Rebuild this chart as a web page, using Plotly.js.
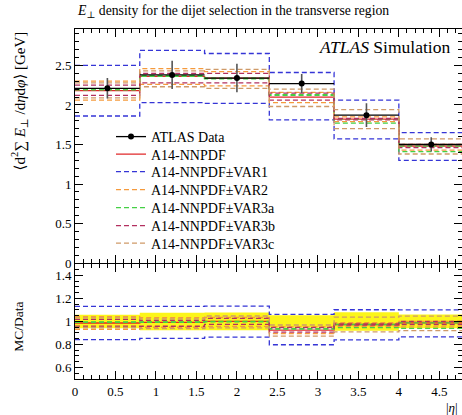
<!DOCTYPE html>
<html>
<head>
<meta charset="utf-8">
<script src="https://cdn.plot.ly/plotly-3.0.1.min.js"></script>
<style>html,body{margin:0;padding:0;background:#fff;}#chart{width:462px;height:415px;}</style>
</head>
<body>
<div id="chart"></div>
<script>
// ---- data ----
const binEdges = [0, 0.8, 1.6, 2.4, 3.2, 4.0, 4.8];
const binCenters = [0.4, 1.2, 2.0, 2.8, 3.6, 4.4];
const binHalfWidth = [0.4, 0.4, 0.4, 0.4, 0.4, 0.4];
const dataVals = [2.21, 2.38, 2.34, 2.27, 1.87, 1.50];
const dataErr  = [0.13, 0.18, 0.18, 0.12, 0.15, 0.09];
const nominal  = [2.18, 2.36, 2.34, 2.10, 1.82, 1.48];
const var1Up   = [2.50, 2.69, 2.65, 2.41, 2.06, 1.65];
const var1Dn   = [1.86, 2.03, 2.02, 1.81, 1.57, 1.30];
const var2Up   = [2.30, 2.46, 2.42, 2.16, 1.85, 1.50];
const var2Dn   = [2.06, 2.26, 2.24, 2.03, 1.79, 1.43];
const var3aUp  = [2.20, 2.37, 2.34, 2.13, 1.82, 1.48];
const var3aDn  = [2.19, 2.36, 2.33, 2.12, 1.77, 1.41];
const var3bUp  = [2.25, 2.40, 2.40, 2.15, 1.83, 1.50];
const var3bDn  = [2.12, 2.28, 2.28, 2.06, 1.81, 1.46];
const var3cUp  = [2.28, 2.43, 2.45, 2.20, 1.94, 1.57];
const var3cDn  = [2.09, 2.23, 2.21, 1.98, 1.70, 1.38];
const legendNames = ['ATLAS Data', 'A14-NNPDF', 'A14-NNPDF±VAR1', 'A14-NNPDF±VAR2',
                     'A14-NNPDF±VAR3a', 'A14-NNPDF±VAR3b', 'A14-NNPDF±VAR3c'];

// ---- styling ----
const FONT = 'Liberation Serif, DejaVu Serif, serif';
const DASH = '5px,3px';
const colors = {
  nominal: '#e0282a', var1: '#3535d6', var2: '#f59a3c', var3a: '#45d045',
  var3b: '#b3305f', var3c: '#cf9a68'
};
// legend row centres (px from top) and plot geometry
const PLOT_TOP = 29, PLOT_BOTTOM = 379, PLOT_H = PLOT_BOTTOM - PLOT_TOP;
const legendRowsPx = [137, 154.5, 172, 190, 208, 226, 243.5];
const legendIds = ['legend', 'legend2', 'legend3', 'legend4', 'legend5', 'legend6', 'legend7'];

function stepY(v) { return v.concat([v[v.length - 1]]); }
function ratio(v) { return v.map((x, i) => x / dataVals[i]); }

const traces = [];
function addHist(vals, color, dash, name, legIdx, showleg, axis) {
  traces.push({
    x: binEdges, y: stepY(vals), type: 'scatter', mode: 'lines',
    line: {shape: 'hv', color: color, width: 1.3, dash: dash},
    name: name, showlegend: showleg, legend: legendIds[legIdx],
    xaxis: axis === 2 ? 'x2' : 'x', yaxis: axis === 2 ? 'y2' : 'y', hoverinfo: 'skip'
  });
}

// ratio band (data uncertainty)
const bandLo = dataVals.map((d, i) => 1 - dataErr[i] / d);
const bandHi = dataVals.map((d, i) => 1 + dataErr[i] / d);
traces.push({x: binEdges, y: stepY(bandLo), type: 'scatter', mode: 'lines',
  line: {shape: 'hv', width: 0, color: 'rgba(0,0,0,0)'}, showlegend: false,
  xaxis: 'x2', yaxis: 'y2', hoverinfo: 'skip'});
traces.push({x: binEdges, y: stepY(bandHi), type: 'scatter', mode: 'lines',
  line: {shape: 'hv', width: 0, color: 'rgba(0,0,0,0)'}, fill: 'tonexty',
  fillcolor: '#fcf51a', showlegend: false, xaxis: 'x2', yaxis: 'y2', hoverinfo: 'skip'});

// legend-only entry for data (line + marker symbol)
traces.push({x: [null], y: [null], type: 'scatter', mode: 'lines+markers',
  line: {color: 'black', width: 1.3}, marker: {color: 'black', size: 6},
  name: legendNames[0], showlegend: true, legend: legendIds[0]});

const sets = [
  [nominal, null, colors.nominal, 'solid'],
  [var1Up, var1Dn, colors.var1, DASH],
  [var2Up, var2Dn, colors.var2, DASH],
  [var3aUp, var3aDn, colors.var3a, DASH],
  [var3bUp, var3bDn, colors.var3b, DASH],
  [var3cUp, var3cDn, colors.var3c, DASH]
];
sets.forEach((s, k) => {
  const li = k + 1, nm = legendNames[li];
  addHist(s[0], s[2], s[3], nm, li, true, 1);
  if (s[1]) addHist(s[1], s[2], s[3], nm, li, false, 1);
  addHist(ratio(s[0]), s[2], s[3], nm, li, false, 2);
  if (s[1]) addHist(ratio(s[1]), s[2], s[3], nm, li, false, 2);
});

// data points
traces.push({
  x: binCenters, y: dataVals, type: 'scatter', mode: 'markers',
  marker: {color: 'black', size: 6},
  error_x: {type: 'data', array: binHalfWidth, width: 0, thickness: 1.3, color: 'black'},
  error_y: {type: 'data', array: dataErr, width: 0, thickness: 1.6, color: '#555555'},
  showlegend: false, name: legendNames[0], hoverinfo: 'skip'
});

const axCommon = {
  showline: true, linecolor: 'black', linewidth: 1, mirror: 'allticks',
  ticks: 'inside', ticklen: 8, tickcolor: 'black', tickwidth: 1,
  showgrid: false, zeroline: false,
  tickfont: {family: FONT, size: 13, color: 'black'}
};

const layout = {
  width: 462, height: 415,
  margin: {l: 75, r: 0, t: PLOT_TOP, b: 415 - PLOT_BOTTOM},
  paper_bgcolor: 'white', plot_bgcolor: 'white',
  font: {family: FONT, color: 'black'},
  showlegend: true,
  xaxis: Object.assign({}, axCommon, {range: [0, 4.78], anchor: 'y', showticklabels: false,
    dtick: 0.5, tick0: 0, minor: {dtick: 0.1, ticklen: 4, ticks: 'inside', tickcolor: 'black'}}),
  yaxis: Object.assign({}, axCommon, {range: [0, 2.96], domain: [0.331, 1], anchor: 'x',
    dtick: 0.5, tick0: 0, minor: {dtick: 0.1, ticklen: 4, ticks: 'inside', tickcolor: 'black'}}),
  xaxis2: Object.assign({}, axCommon, {range: [0, 4.78], anchor: 'y2', matches: 'x',
    dtick: 0.5, tick0: 0, minor: {dtick: 0.1, ticklen: 4, ticks: 'inside', tickcolor: 'black'}}),
  yaxis2: Object.assign({}, axCommon, {range: [0.5, 1.5], domain: [0, 0.329], anchor: 'x2',
    tickvals: [0.6, 0.8, 1, 1.2, 1.4], ticktext: ['0.6', '0.8', '1', '1.2', '1.4'],
    minor: {dtick: 0.05, ticklen: 4, ticks: 'inside', tickcolor: 'black'}}),
  annotations: [
    {text: '<i>E</i><sub>⊥</sub> density for the dijet selection in the transverse region',
     xref: 'paper', yref: 'paper', x: 0, y: 1.049, xanchor: 'left', yanchor: 'middle',
     showarrow: false, font: {family: FONT, size: 13.7, color: 'black'}},
    {text: '<i>ATLAS</i> Simulation', xref: 'paper', yref: 'paper', x: 0.974, y: 0.949,
     xanchor: 'right', yanchor: 'middle', showarrow: false,
     font: {family: FONT, size: 17.5, color: 'black'}},
    {text: '⟨d<sup>2</sup>∑ <i>E</i><sub>⊥</sub> /d<i>η</i>d<i>φ</i>⟩ [GeV]', textangle: -90,
     xref: 'paper', yref: 'paper', x: -0.145, y: 1.0, xanchor: 'center', yanchor: 'top',
     showarrow: false, font: {family: FONT, size: 15, color: 'black'}},
    {text: 'MC/Data', textangle: -90, xref: 'paper', yref: 'paper', x: -0.145, y: 0.149,
     xanchor: 'center', yanchor: 'middle', showarrow: false,
     font: {family: FONT, size: 13.5, color: 'black'}},
    {text: '|<i>η</i>|', xref: 'paper', yref: 'paper', x: 0.995, y: -0.08,
     xanchor: 'right', yanchor: 'middle', showarrow: false,
     font: {family: FONT, size: 13, color: 'black'}}
  ]
};
legendIds.forEach((id, i) => {
  layout[id] = {
    x: 0.093, y: (PLOT_BOTTOM - legendRowsPx[i]) / PLOT_H, xanchor: 'left', yanchor: 'middle',
    bgcolor: 'rgba(0,0,0,0)', borderwidth: 0, itemwidth: 30,
    font: {family: FONT, size: 14, color: 'black'}
  };
});

Plotly.newPlot('chart', traces, layout, {displayModeBar: false, staticPlot: true});
</script>
</body>
</html>
